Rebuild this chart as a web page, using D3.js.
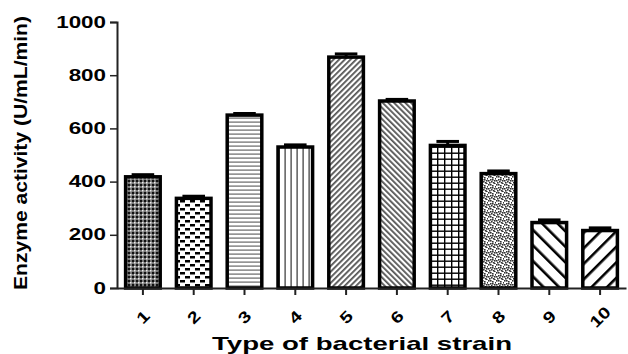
<!DOCTYPE html>
<html>
<head>
<meta charset="utf-8">
<script src="https://cdn.jsdelivr.net/npm/d3@7"></script>
<style>
  body { margin: 0; background: #fff; }
  text { font-family: Arial, "Liberation Sans", sans-serif; }
</style>
</head>
<body>
<div id="chart"></div>
<script>
var width = 628;
var height = 354;

// data
var strains = ['1', '2', '3', '4', '5', '6', '7', '8', '9', '10'];
var activity = [418, 337, 650, 530, 868, 703, 536, 430, 246, 216];
var errors = [8, 8, 6, 8, 12, 6, 15, 10, 10, 10];
var yTicks = [0, 200, 400, 600, 800, 1000];

var plotLeft = 117, plotRight = 626, plotTop = 22, plotBottom = 288;

var svg = d3.select('#chart')
  .append('svg')
  .attr('width', width)
  .attr('height', height);

var defs = svg.append('defs');

//fill patterns, one per bar
function pat(id, w, h, rot) {
  var p = defs.append('pattern')
    .attr('id', id)
    .attr('patternUnits', 'userSpaceOnUse')
    .attr('width', w)
    .attr('height', h);
  if (rot) p.attr('patternTransform', 'rotate(' + rot + ')');
  p.append('rect').attr('width', w).attr('height', h).attr('fill', '#fff');
  return p;
}

var p1 = pat('p1', 4, 4);
p1.append('rect').attr('width', 4).attr('height', 4).attr('fill', '#777');
p1.append('rect').attr('x', 0).attr('y', 0).attr('width', 2).attr('height', 2).attr('fill', '#111');
p1.append('rect').attr('x', 2).attr('y', 2).attr('width', 1.5).attr('height', 1.5).attr('fill', '#eee');

var p2 = pat('p2', 10, 8);
p2.append('rect').attr('x', 0).attr('y', 0).attr('width', 5).attr('height', 2.5).attr('fill', '#000');
p2.append('rect').attr('x', 5).attr('y', 4).attr('width', 5).attr('height', 2.5).attr('fill', '#000');

var p3 = pat('p3', 6, 4);
p3.append('rect').attr('y', 1.5).attr('width', 6).attr('height', 1.2).attr('fill', '#666');

var p4 = pat('p4', 6, 6);
p4.append('rect').attr('x', 2.5).attr('width', 1.2).attr('height', 6).attr('fill', '#333');

var p5 = pat('p5', 4, 4, 45);
p5.append('rect').attr('x', 1).attr('width', 1.8).attr('height', 4).attr('fill', '#555');

var p6 = pat('p6', 4, 4, -45);
p6.append('rect').attr('x', 1).attr('width', 1.8).attr('height', 4).attr('fill', '#555');

var p7 = pat('p7', 7, 6);
p7.append('rect').attr('x', 3).attr('width', 1.4).attr('height', 6).attr('fill', '#000');
p7.append('rect').attr('y', 2.5).attr('width', 7).attr('height', 1.4).attr('fill', '#000');

var p8 = pat('p8', 8, 8);
[[0, 0], [4, 1], [2, 3], [6, 4], [1, 6], [5, 6], [3, 5], [7, 2], [2, 0], [6, 7], [0, 4], [4, 3]].forEach(function(d) {
  p8.append('rect').attr('x', d[0]).attr('y', d[1]).attr('width', 1.6).attr('height', 1.6).attr('fill', '#333');
});

var p9 = pat('p9', 11, 11, -45);
p9.append('rect').attr('x', 4).attr('width', 2.6).attr('height', 11).attr('fill', '#000');

var p10 = pat('p10', 11, 11, 45);
p10.append('rect').attr('x', 4).attr('width', 2.6).attr('height', 11).attr('fill', '#000');

var x = d3.scaleBand()
  .domain(strains)
  .range([plotLeft, plotRight])
  .paddingInner(0.26)
  .paddingOuter(0.14);

var y = d3.scaleLinear()
  .domain([0, 1000])
  .range([plotBottom, plotTop]);

var data = strains.map(function(s, i) {
  return { name: s, value: activity[i], err: errors[i], fill: 'url(#p' + (i + 1) + ')' };
});

// bars
svg.selectAll('.bar')
  .data(data)
  .enter().append('rect')
  .attr('class', 'bar')
  .attr('x', function(d) { return x(d.name) + 1.5; })
  .attr('y', function(d) { return y(d.value); })
  .attr('width', x.bandwidth() - 3)
  .attr('height', function(d) { return y(0) - y(d.value); })
  .style('fill', function(d) { return d.fill; })
  .style('stroke', '#000')
  .style('stroke-width', 3.5);

// error bars (upper only)
var cap = svg.selectAll('.err')
  .data(data)
  .enter().append('g')
  .attr('class', 'err');

cap.append('line')
  .attr('x1', function(d) { return x(d.name) + x.bandwidth() / 2; })
  .attr('x2', function(d) { return x(d.name) + x.bandwidth() / 2; })
  .attr('y1', function(d) { return y(d.value); })
  .attr('y2', function(d) { return y(d.value + d.err); })
  .style('stroke', '#000')
  .style('stroke-width', 3);

cap.append('line')
  .attr('x1', function(d) { return x(d.name) + x.bandwidth() * 0.2; })
  .attr('x2', function(d) { return x(d.name) + x.bandwidth() * 0.8; })
  .attr('y1', function(d) { return y(d.value + d.err); })
  .attr('y2', function(d) { return y(d.value + d.err); })
  .style('stroke', '#000')
  .style('stroke-width', 3);

// y axis
var yAxis = svg.append('g')
  .attr('transform', 'translate(' + plotLeft + ',0)')
  .call(d3.axisLeft(y).tickValues(yTicks).tickFormat(d3.format('d')).tickSize(7).tickPadding(4));
yAxis.select('.domain').attr('stroke', '#222').attr('stroke-width', 2);
yAxis.selectAll('.tick line').attr('stroke', '#222').attr('stroke-width', 1.5);
yAxis.selectAll('.tick text')
  .attr('fill', '#000')
  .style('font-size', '16px')
  .style('font-weight', 'bold')
  .attr('transform', 'translate(-11,0) scale(1.4,1) translate(11,0)');

// x axis
var xAxis = svg.append('g')
  .attr('transform', 'translate(0,' + plotBottom + ')')
  .call(d3.axisBottom(x).tickSize(7).tickSizeOuter(0));
xAxis.select('.domain').attr('stroke', '#222').attr('stroke-width', 2);
xAxis.selectAll('.tick line').attr('stroke', '#222').attr('stroke-width', 2);
xAxis.selectAll('.tick text')
  .attr('fill', '#000')
  .style('font-size', '16px')
  .style('font-weight', 'bold')
  .attr('text-anchor', 'middle')
  .attr('dy', '0.35em')
  .attr('y', 0)
  .attr('transform', 'translate(0,29) rotate(-45) scale(1.25,1)');

// axis titles
svg.append('text')
  .attr('transform', 'translate(27,153) rotate(-90)')
  .attr('text-anchor', 'middle')
  .style('font-size', '18px')
  .style('font-weight', '600')
  .attr('textLength', 274)
  .attr('lengthAdjust', 'spacingAndGlyphs')
  .text('Enzyme activity (U/mL/min)');

svg.append('text')
  .attr('x', 362)
  .attr('y', 350)
  .attr('text-anchor', 'middle')
  .style('font-size', '19px')
  .style('font-weight', 'bold')
  .attr('textLength', 300)
  .attr('lengthAdjust', 'spacingAndGlyphs')
  .text('Type of bacterial strain');
</script>
</body>
</html>
